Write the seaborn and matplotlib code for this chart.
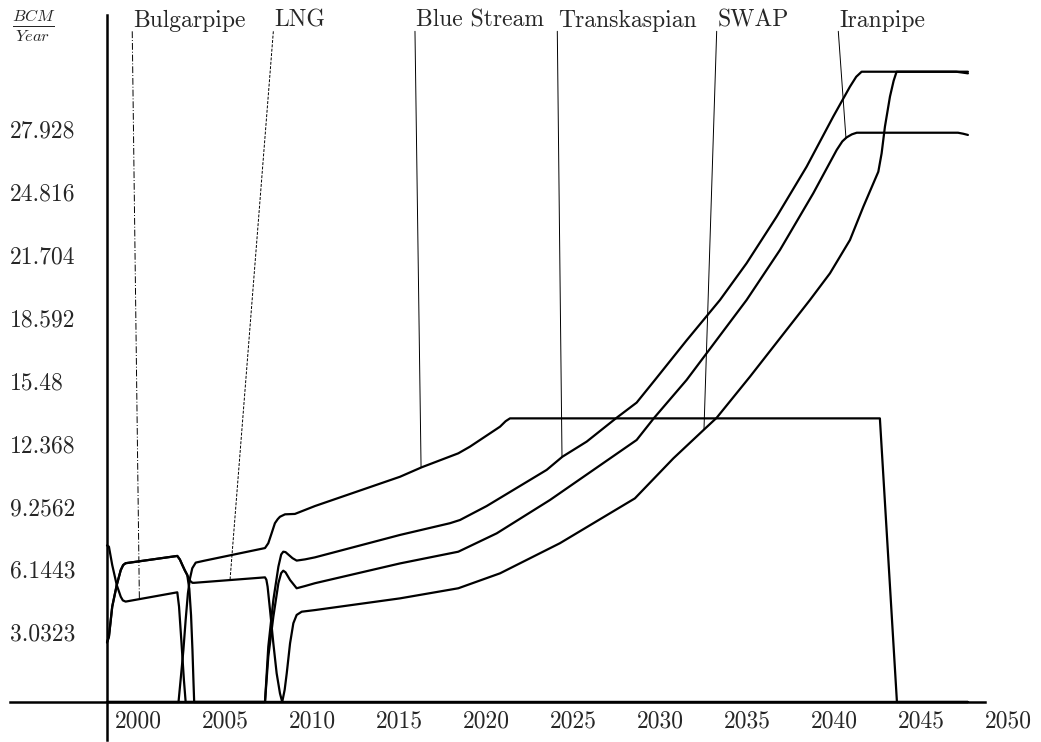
import numpy as np
import pandas as pd
import matplotlib
matplotlib.use("Agg")
import matplotlib.pyplot as plt
import seaborn as sns

# ---- values: year -> BCM per year ----
bulgarpipe_years = [1998.19, 1998.30, 1998.49, 1998.75, 1998.98, 1999.10, 1999.26,
                    2002.23, 2002.33, 2002.46, 2002.61, 2002.71, 2047.67]
bulgarpipe_bcm = [7.75, 7.69, 6.78, 5.79, 5.21, 5.03, 4.97,
                  5.43, 4.72, 3.07, 1.09, 0.0, 0.0]

lng_years = [1998.19, 1998.30, 1998.49, 1998.75, 1998.98, 1999.12, 1999.26,
             2002.23, 2002.38, 2002.52, 2002.66, 2002.80, 2002.96, 2003.10, 2003.20,
             2007.27, 2007.35, 2007.42, 2007.56, 2007.75, 2007.94, 2008.13, 2008.26, 2047.67]
lng_bcm = [2.95, 3.23, 4.72, 5.79, 6.53, 6.78, 6.87,
           7.23, 7.05, 6.78, 6.52, 6.29, 6.00, 5.90, 5.90,
           6.17, 6.05, 5.71, 4.55, 2.90, 1.42, 0.43, 0.0, 0.0]

bluestream_years = [1998.19, 2002.30, 2002.42, 2002.58, 2002.71, 2002.84, 2002.96, 2003.09,
                    2003.29, 2003.76, 2007.27, 2007.46, 2007.65, 2007.84, 2008.00, 2008.13,
                    2008.42, 2008.99, 2010.14, 2015.03, 2016.28, 2018.38, 2019.05, 2020.78,
                    2021.10, 2021.35, 2042.61, 2043.59, 2047.67]
bluestream_bcm = [0.0, 0.0, 1.09, 2.57, 4.06, 5.38, 6.12, 6.62,
                  6.90, 6.99, 7.62, 7.86, 8.35, 8.85, 9.05, 9.17,
                  9.29, 9.31, 9.70, 11.15, 11.62, 12.31, 12.64, 13.63,
                  13.90, 14.04, 14.04, 0.0, 0.0]

transkaspian_years = [1998.19, 1998.30, 1998.49, 1998.75, 1998.98, 1999.12, 1999.26,
                      2002.23, 2002.38, 2002.52, 2002.66, 2002.80, 2002.92, 2003.02, 2003.10,
                      2003.16, 2003.20, 2007.27, 2007.46, 2007.75, 2008.04, 2008.20, 2008.32,
                      2008.45, 2008.61, 2008.85, 2009.09, 2009.57, 2010.14, 2015.03, 2017.90,
                      2018.48, 2020.01, 2023.46, 2024.36, 2025.76, 2027.48, 2028.63, 2029.68,
                      2031.50, 2033.42, 2034.95, 2036.68, 2038.40, 2039.93, 2040.89, 2041.25,
                      2041.56, 2047.67]
transkaspian_bcm = [2.95, 3.23, 4.72, 5.79, 6.53, 6.78, 6.87,
                    7.23, 7.05, 6.78, 6.52, 6.29, 5.60, 4.30, 2.60,
                    1.00, 0.0, 0.0, 2.74, 5.05, 6.70, 7.30, 7.44,
                    7.42, 7.30, 7.12, 7.00, 7.06, 7.16, 8.27, 8.85,
                    9.01, 9.70, 11.49, 12.14, 12.89, 14.07, 14.82, 15.94,
                    17.90, 19.90, 21.72, 24.03, 26.50, 28.98, 30.46, 30.95,
                    31.20, 31.20]

swap_years = [1998.19, 2008.26, 2008.40, 2008.52, 2008.71, 2008.90, 2009.09, 2009.38,
              2010.14, 2015.03, 2018.38, 2020.78, 2024.22, 2028.53, 2030.74, 2032.52,
              2033.23, 2035.14, 2038.59, 2039.74, 2040.89, 2041.66, 2042.52, 2042.71,
              2042.90, 2043.19, 2043.40, 2043.57, 2047.00, 2047.67]
swap_bcm = [0.0, 0.0, 0.60, 1.42, 2.90, 3.90, 4.31, 4.47,
            4.55, 5.13, 5.63, 6.37, 7.86, 10.08, 12.06, 13.50,
            14.07, 16.10, 19.90, 21.22, 22.87, 24.52, 26.25, 27.16,
            28.48, 29.97, 30.75, 31.20, 31.20, 31.12]

iranpipe_years = [1998.19, 2007.27, 2007.46, 2007.75, 2008.04, 2008.20, 2008.32, 2008.45,
                  2008.71, 2009.09, 2009.57, 2010.14, 2015.03, 2018.38, 2020.59, 2023.65,
                  2028.63, 2029.64, 2031.50, 2034.95, 2036.87, 2038.78, 2040.13, 2040.45,
                  2040.70, 2041.00, 2041.28, 2047.10, 2047.40, 2047.67]
iranpipe_bcm = [0.0, 0.0, 2.24, 4.22, 5.88, 6.38, 6.50, 6.42,
                6.04, 5.63, 5.74, 5.88, 6.86, 7.44, 8.35, 10.00,
                12.97, 14.07, 15.94, 19.90, 22.38, 25.18, 27.33, 27.75,
                27.95, 28.10, 28.18, 28.18, 28.13, 28.07]

pipe_names = ["Bulgarpipe", "LNG", "Blue Stream", "Transkaspian", "SWAP", "Iranpipe"]
pipe_years = [bulgarpipe_years, lng_years, bluestream_years,
              transkaspian_years, swap_years, iranpipe_years]
pipe_bcm = [bulgarpipe_bcm, lng_bcm, bluestream_bcm,
            transkaspian_bcm, swap_bcm, iranpipe_bcm]

# label anchors (year of the label's left edge) and the year each leader points to
label_years = [1999.64, 2007.75, 2015.89, 2024.07, 2033.23, 2040.22]
target_years = [2000.05, 2005.26, 2016.24, 2024.34, 2032.50, 2040.66]

year_ticks = [2000, 2005, 2010, 2015, 2020, 2025, 2030, 2035, 2040, 2045, 2050]
bcm_ticks = [3.0323, 6.1443, 9.2562, 12.368, 15.48, 18.592, 21.704, 24.816, 27.928]
bcm_tick_labels = ["3.0323", "6.1443", "9.2562", "12.368", "15.48",
                   "18.592", "21.704", "24.816", "27.928"]

# ---- layout / style ----
XLIM = (1992.04, 2051.87)
YLIM = (-1.98, 34.75)
AXIS_YEAR = 1998.19
LABEL_BASE = 33.42
LEADER_TOP = 33.2
FS = 17
leader_styles = [(0, (7, 2, 1, 2)), (0, (3, 1.5)), "-", "-", "-", "-"]

sns.set_style("white")
plt.rcParams["font.family"] = "cmr10"
plt.rcParams["mathtext.fontset"] = "cm"
plt.rcParams["axes.formatter.use_mathtext"] = True

frames = []
for name, yrs, vals in zip(pipe_names, pipe_years, pipe_bcm):
    frames.append(pd.DataFrame({"pipeline": name, "year": yrs, "bcm": vals}))
df = pd.concat(frames, ignore_index=True)

fig = plt.figure(figsize=(10.41, 7.42), dpi=100)
ax = fig.add_axes([0, 0, 1, 1])

sns.lineplot(data=df, x="year", y="bcm", units="pipeline", estimator=None,
             sort=False, color="black", linewidth=1.6, legend=False, ax=ax)

ax.set_xlim(*XLIM)
ax.set_ylim(*YLIM)
ax.set_xlabel("")
ax.set_ylabel("")

for s in ["top", "right"]:
    ax.spines[s].set_visible(False)
ax.spines["left"].set_position(("data", AXIS_YEAR))
ax.spines["bottom"].set_position(("data", 0))
ax.spines["left"].set_bounds(-1.88, 34.0)
ax.spines["bottom"].set_bounds(1992.61, 2048.65)
for s in ["left", "bottom"]:
    ax.spines[s].set_linewidth(1.8)
    ax.spines[s].set_color("black")

ax.set_xticks(year_ticks)
ax.set_xticklabels([str(y) for y in year_ticks], fontsize=FS)
ax.tick_params(axis="x", length=0, pad=6)
ax.set_yticks([])

for val, lab in zip(bcm_ticks, bcm_tick_labels):
    ax.text(0.0096, val, lab, transform=ax.get_yaxis_transform(),
            ha="left", va="baseline", fontsize=FS)

ax.text(0.032, 0.965, r"$\frac{BCM}{Year}$", transform=ax.transAxes,
        ha="center", va="center", fontsize=FS)

# pipeline labels with leader lines
for name, yrs, vals, lx, tx, ls in zip(pipe_names, pipe_years, pipe_bcm,
                                       label_years, target_years, leader_styles):
    ty = np.interp(tx, yrs, vals)
    ax.plot([lx, tx], [LEADER_TOP, ty], color="black", linewidth=0.7, linestyle=ls)
    ax.text(lx + 0.05, LABEL_BASE, name, ha="left", va="baseline", fontsize=FS)

fig.savefig("out.png", dpi=100)
